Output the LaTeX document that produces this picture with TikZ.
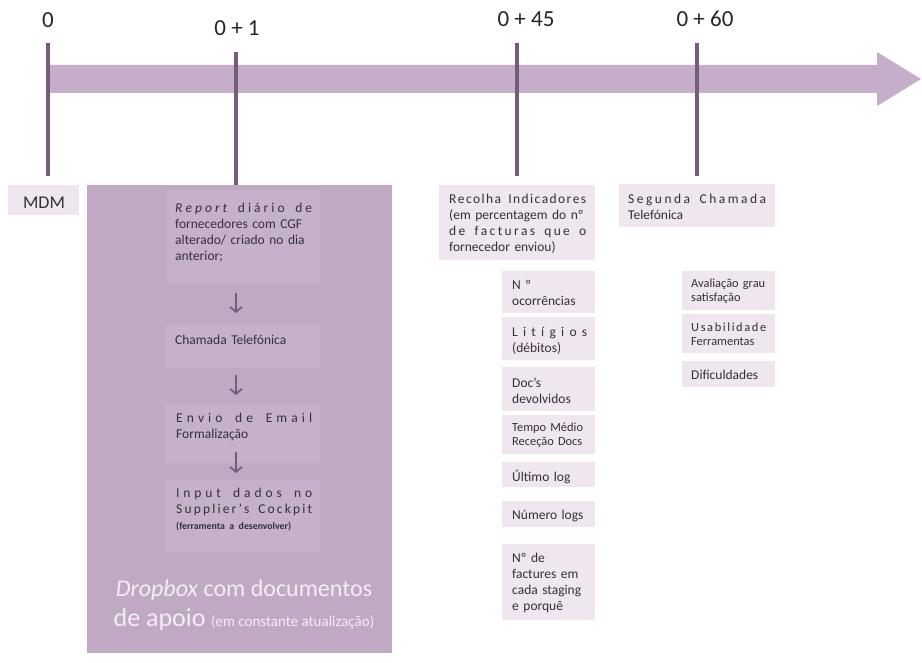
\documentclass[tikz,border=0pt]{standalone}
\usepackage{fontspec}
\setmainfont{Carlito}
\usetikzlibrary{arrows.meta,calc}

\definecolor{arrowC}{HTML}{C5AEC9}
\definecolor{tickC}{HTML}{775A7D}
\definecolor{bigC}{HTML}{BFA9C3}
\definecolor{innerC}{HTML}{C6B1CA}
\definecolor{paleC}{HTML}{EFE6EF}
\definecolor{textC}{HTML}{333333}
\definecolor{labelC}{HTML}{262626}
\definecolor{lightC}{HTML}{F3EEF4}

% letter-spread a word list (use ~ between words)
\makeatletter
\def\spreadit#1{\spread@first#1\relax}
\def\spread@first#1{#1\spread@next}
\def\spread@next#1{\ifx#1\relax\else\hfil#1\expandafter\spread@next\fi}
\makeatother
\newcommand\lsline[1]{\leavevmode\hbox to \hsize{\spreadit{#1}}}
\newcommand\jsline[1]{\leavevmode\makebox[\hsize][s]{#1}}

\begin{document}
\begin{tikzpicture}[x=1pt,y=-1pt,
  panel/.style={fill=paleC, draw=none, inner sep=0pt, anchor=north west},
  subpanel/.style={fill=innerC, draw=none, inner sep=0pt, anchor=north west},
  txt/.style={anchor=north west, inner sep=0pt, align=left, text=textC,
              font=\fontsize{13.5}{16}\selectfont},
  smalltxt/.style={txt, font=\fontsize{12.4}{14}\selectfont},
  ticklabel/.style={inner sep=0pt, text=labelC, font=\fontsize{23}{26}\selectfont},
  tick/.style={draw=tickC, line width=4pt},
  flow/.style={draw=tickC, line width=1.8pt, -{Straight Barb[length=5pt,width=12pt]}}]

\useasboundingbox (0,0) rectangle (922,663);
\fill[white] (0,0) rectangle (922,663);

% timeline arrow
\fill[arrowC] (47,65) -- (877,65) -- (877,52) -- (921,79) -- (877,106) -- (877,93) -- (47,93) -- cycle;

% milestone labels
\node[ticklabel] (lab0)  at (48,20)  {0};
\node[ticklabel] (lab1)  at (237,28) {0 + 1};
\node[ticklabel] (lab45) at (526,19) {0 + 45};
\node[ticklabel] (lab60) at (705,19) {0 + 60};

% MDM
\node[panel, minimum width=71pt, minimum height=30pt] (mdmB) at (8,185) {};
\node[inner sep=0pt, text=textC, font=\fontsize{18}{20}\selectfont] (mdmT) at (44,203) {MDM};

% day 0+1 column
\node[fill=bigC, draw=none, inner sep=0pt, anchor=north west,
      minimum width=305pt, minimum height=468pt] (bigB) at (87,185) {};

\node[subpanel, minimum width=153pt, minimum height=93pt] (repB) at (167,190) {};
\node[txt, text width=137pt] (repT) at (175,203) {%
  \leavevmode\hbox to \hsize{\itshape\spreadit{Report}\hfil\upshape\ \hfil\spreadit{diário~de}}\\
  \jsline{fornecedores com CGF}\\
  \jsline{alterado/ criado no dia}\\
  anterior;};

\node[subpanel, minimum width=155pt, minimum height=43pt] (chaB) at (165,325) {};
\node[txt, text width=137pt] (chaT) at (175,334.5) {Chamada Telefónica};

\node[subpanel, minimum width=155pt, minimum height=60pt] (envB) at (165,403) {};
\node[txt, text width=136pt] (envT) at (176,412.5) {%
  \lsline{Envio~de~Email}\\
  Formalização};

\node[subpanel, minimum width=155pt, minimum height=72pt] (inpB) at (165,480) {};
\node[txt, text width=136pt] (inpT) at (176,488) {%
  \lsline{Input~dados~no}\\
  \lsline{Supplier’s~Cockpit}\\
  {\fontsize{9.8}{12}\selectfont\bfseries (ferramenta a desenvolver)}};

\coordinate (t1a) at (236,52);
\draw[flow, shorten <=10pt, shorten >=12pt] (repB.south -| t1a) -- (chaB.north -| t1a);
\draw[flow, shorten <=7pt, shorten >=8pt] (chaB.south -| t1a) -- (envB.north -| t1a);
\draw[flow, shorten <=-11pt, shorten >=7pt] (envB.south -| t1a) -- (inpB.north -| t1a);

\node[align=center, inner sep=0pt, text=lightC, font=\fontsize{24}{30}\selectfont] (dropT) at (244,605)
  {\textit{Dropbox} com documentos\\
   {\fontsize{26}{30}\selectfont de apoio} {\fontsize{15}{30}\selectfont (em constante atualização)}};

% day 0+45 column
\node[panel, minimum width=156pt, minimum height=75pt] (recB) at (439,185) {};
\node[txt, text width=137pt] (recT) at (449,193.5) {%
  \lsline{Recolha~Indicadores}\\
  \jsline{(em percentagem do nº}\\
  \lsline{de~facturas~que~o}\\
  fornecedor enviou)};

\node[panel, minimum width=93pt, minimum height=42pt] (ocoB) at (502,271) {};
\node[txt, text width=75pt] (ocoT) at (512,280.5) {\jsline{N º}\\ ocorrências};

\node[panel, minimum width=93pt, minimum height=43pt] (litB) at (502,317) {};
\node[txt, text width=75pt] (litT) at (512,327.5) {\lsline{Litígios}\\ (débitos)};

\node[panel, minimum width=93pt, minimum height=44pt] (docB) at (502,367) {};
\node[txt, text width=75pt] (docT) at (512,377.5) {Doc’s\\ devolvidos};

\node[panel, minimum width=93pt, minimum height=39pt] (temB) at (502,415) {};
\node[smalltxt, text width=78pt] (temT) at (512,423) {Tempo Médio\\ Receção Docs};

\node[panel, minimum width=93pt, minimum height=25pt] (ultB) at (502,462) {};
\node[txt, text width=75pt] (ultT) at (512,470.5) {Último log};

\node[panel, minimum width=93pt, minimum height=26pt] (numB) at (502,501) {};
\node[txt, text width=78pt] (numT) at (512,509.5) {Número logs};

\node[panel, minimum width=93pt, minimum height=76pt] (facB) at (502,544) {};
\node[txt, text width=78pt] (facT) at (512,552.5) {Nº de\\ factures em\\ cada staging\\ e porquê};

% day 0+60 column
\node[panel, minimum width=156pt, minimum height=43pt] (segB) at (619,184) {};
\node[txt, text width=138pt] (segT) at (628,193.5) {%
  \lsline{Segunda~Chamada}\\
  Telefónica};

\node[panel, minimum width=93pt, minimum height=39pt] (avaB) at (682,271) {};
\node[smalltxt, text width=78pt] (avaT) at (691,279) {Avaliação grau\\ satisfação};

\node[panel, minimum width=93pt, minimum height=39pt] (usaB) at (682,314) {};
\node[smalltxt, text width=75pt] (usaT) at (691,323) {\lsline{Usabilidade}\\ Ferramentas};

\node[panel, minimum width=93pt, minimum height=26pt] (difB) at (682,361) {};
\node[txt, text width=78pt] (difT) at (691,369.5) {Dificuldades};

% milestone ticks
\coordinate (t0a) at (48,43);
\coordinate (t45a) at (517,43);
\coordinate (t60a) at (697,43);
\draw[tick] (t0a) -- (t0a |- 0,176);
\draw[tick] (t1a) -- (t1a |- bigB.north);
\draw[tick] (t45a) -- (t45a |- 0,176);
\draw[tick] (t60a) -- (t60a |- 0,176);

\end{tikzpicture}
\end{document}
